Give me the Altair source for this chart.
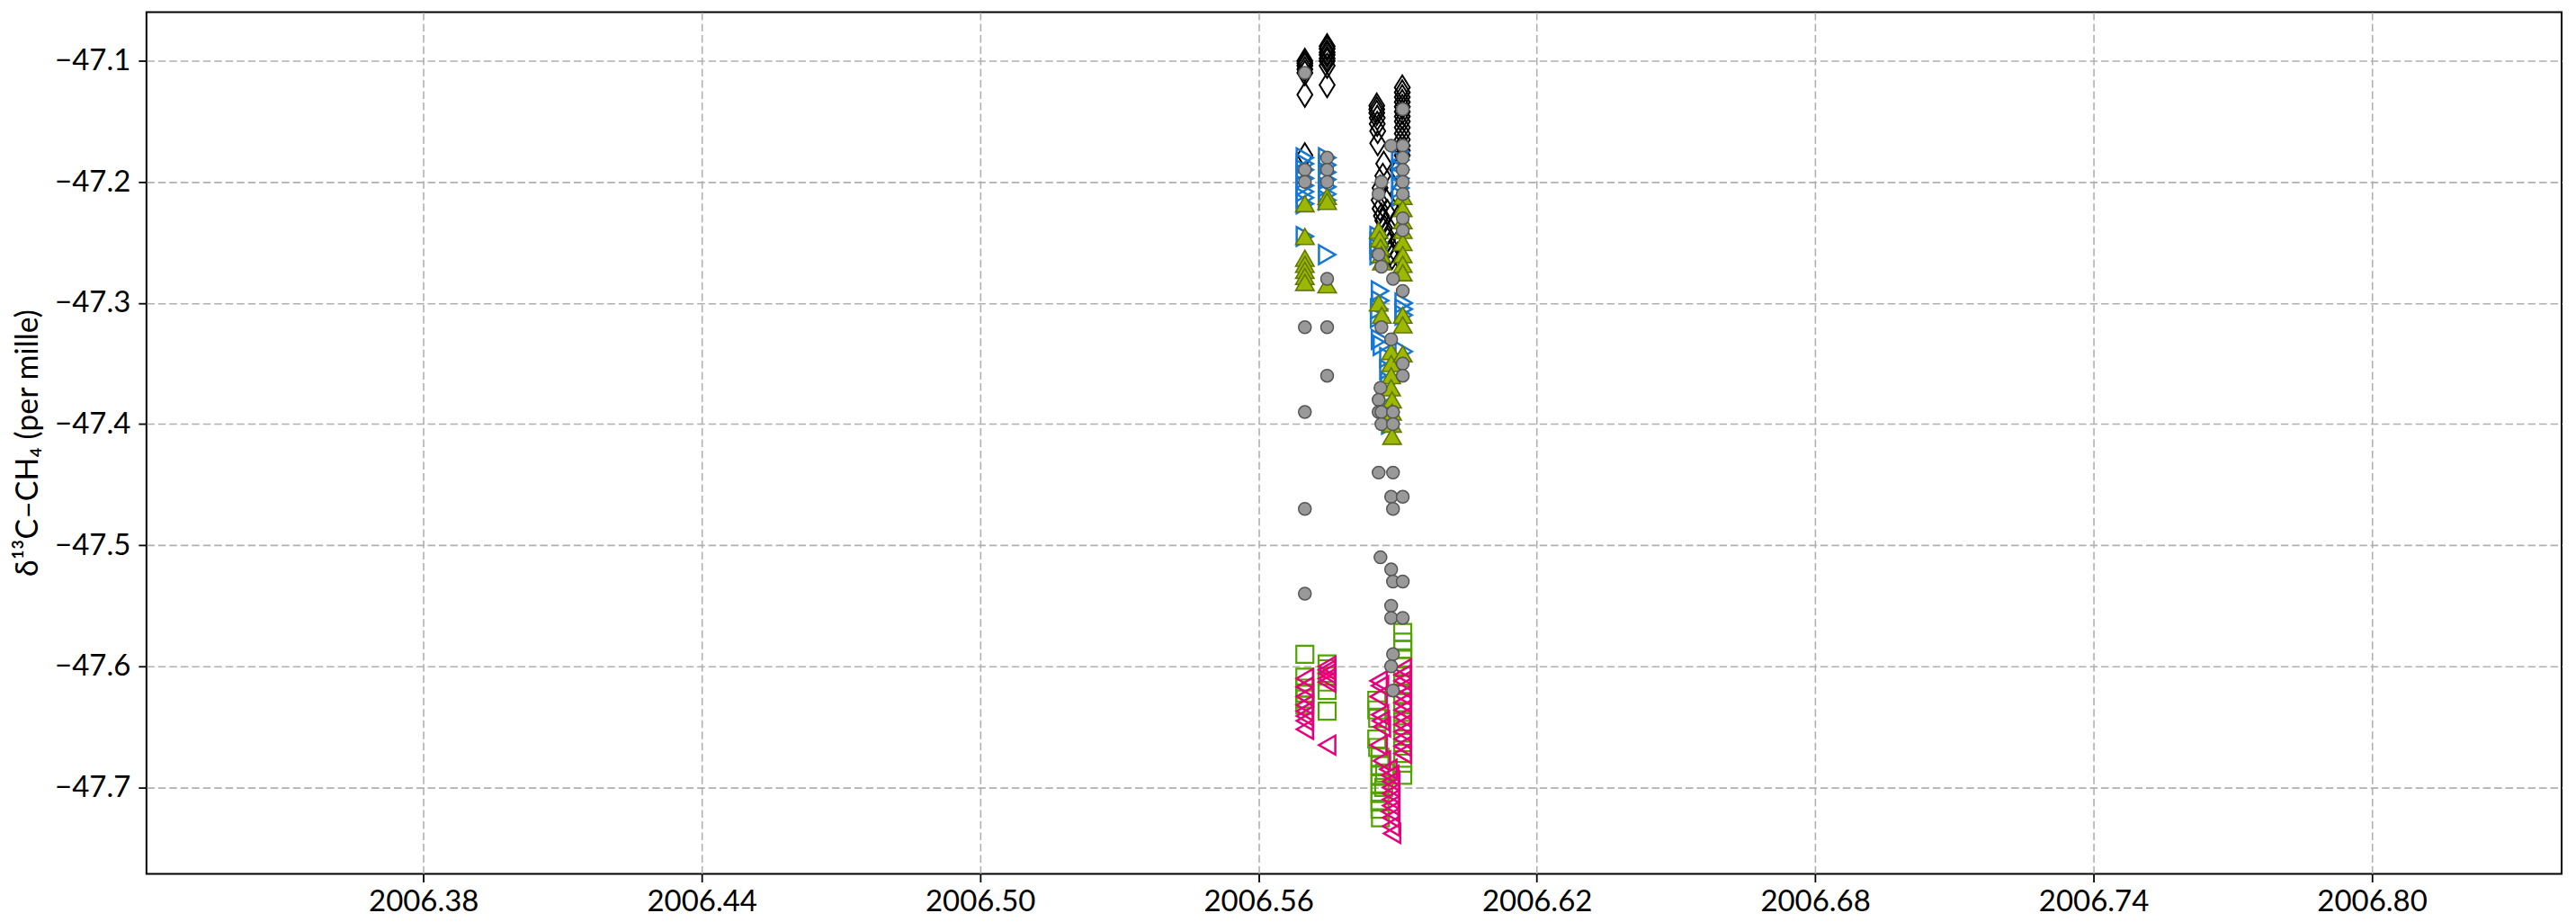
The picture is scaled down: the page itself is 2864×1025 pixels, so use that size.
import altair as alt
import pandas as pd

# ---- data (decimal year, delta13C-CH4 per mille) ----
# black open thin diamonds
dia_x = [2006.5700]*7 + [2006.5748]*8 + [2006.5855, 2006.5855, 2006.5855, 2006.5856, 2006.5856, 2006.5857, 2006.5857,
          2006.5870, 2006.5868, 2006.5862, 2006.5860, 2006.5862, 2006.5865, 2006.5868, 2006.5872, 2006.5875,
          2006.5878, 2006.5882, 2006.5885, 2006.5888, 2006.5878, 2006.5874] + [2006.5910]*14 + [2006.5900]*5
dia_y = [-47.100, -47.102, -47.104, -47.107, -47.110, -47.128, -47.178,
         -47.088, -47.090, -47.093, -47.095, -47.098, -47.100, -47.104, -47.120,
         -47.137, -47.140, -47.143, -47.147, -47.152, -47.158, -47.168,
         -47.185, -47.195, -47.205, -47.215, -47.222, -47.228, -47.232, -47.238, -47.243,
         -47.248, -47.252, -47.258, -47.262, -47.225, -47.215,
         -47.122, -47.126, -47.130, -47.134, -47.138, -47.142, -47.146, -47.150, -47.155, -47.160,
         -47.165, -47.170, -47.174, -47.178,
         -47.190, -47.210, -47.230, -47.250, -47.260]

# blue open right-pointing triangles
blu_x = [2006.5700]*9 + [2006.5748]*8 + [2006.5859, 2006.5859, 2006.5859, 2006.5859, 2006.5862, 2006.5862, 2006.5860,
          2006.5860, 2006.5862, 2006.5866, 2006.5880, 2006.5880, 2006.5882, 2006.5882, 2006.5884, 2006.5884] + \
        [2006.5906]*6 + [2006.5913]*4
blu_y = [-47.180, -47.185, -47.190, -47.197, -47.203, -47.208, -47.213, -47.218, -47.245,
         -47.180, -47.186, -47.192, -47.198, -47.204, -47.210, -47.215, -47.260,
         -47.245, -47.250, -47.255, -47.260, -47.290, -47.298, -47.305, -47.312, -47.330, -47.335,
         -47.345, -47.355, -47.365, -47.375, -47.390, -47.400,
         -47.175, -47.182, -47.190, -47.197, -47.205, -47.212,
         -47.300, -47.305, -47.310, -47.340]

# olive filled up triangles
oli_x = [2006.5700]*7 + [2006.5748]*3 + [2006.5859, 2006.5861, 2006.5863, 2006.5865, 2006.5866, 2006.5859, 2006.5866,
          2006.5886, 2006.5886, 2006.5886, 2006.5886, 2006.5888, 2006.5888, 2006.5888, 2006.5888] + [2006.5911]*11
oli_y = [-47.218, -47.245, -47.263, -47.268, -47.273, -47.278, -47.283,
         -47.212, -47.216, -47.285,
         -47.240, -47.247, -47.254, -47.260, -47.266, -47.300, -47.310,
         -47.340, -47.350, -47.360, -47.370, -47.380, -47.390, -47.400, -47.410,
         -47.212, -47.222, -47.232, -47.240, -47.250, -47.260, -47.268, -47.275, -47.310, -47.318, -47.342]

# green open squares
grn_x = [2006.5700]*6 + [2006.5748]*6 + [2006.5855, 2006.5855, 2006.5857, 2006.5855, 2006.5857, 2006.5862, 2006.5862,
          2006.5862, 2006.5862, 2006.5862, 2006.5862, 2006.5862, 2006.5863, 2006.5870, 2006.5872] + [2006.5911]*16
grn_y = [-47.590, -47.609, -47.618, -47.622, -47.627, -47.632,
         -47.598, -47.602, -47.608, -47.613, -47.620, -47.637,
         -47.628, -47.636, -47.643, -47.660, -47.667, -47.675, -47.682, -47.690, -47.697, -47.705,
         -47.712, -47.718, -47.725, -47.700, -47.688,
         -47.572, -47.580, -47.586, -47.593, -47.600, -47.608, -47.615, -47.623, -47.630, -47.638,
         -47.646, -47.655, -47.663, -47.672, -47.680, -47.690]

# magenta open left-pointing triangles
mag_x = [2006.5700]*8 + [2006.5748]*6 + [2006.5859, 2006.5862, 2006.5859, 2006.5862, 2006.5864, 2006.5866, 2006.5859,
          2006.5866, 2006.5880, 2006.5884, 2006.5886, 2006.5886, 2006.5886, 2006.5886, 2006.5886, 2006.5884,
          2006.5886, 2006.5886, 2006.5888] + [2006.5911]*13
mag_y = [-47.610, -47.617, -47.625, -47.632, -47.637, -47.641, -47.645, -47.652,
         -47.600, -47.603, -47.606, -47.610, -47.613, -47.665,
         -47.612, -47.616, -47.625, -47.640, -47.645, -47.650, -47.665, -47.678, -47.685, -47.690,
         -47.695, -47.700, -47.705, -47.710, -47.715, -47.720, -47.725, -47.732, -47.738,
         -47.602, -47.607, -47.612, -47.618, -47.624, -47.630, -47.636, -47.642, -47.648, -47.654,
         -47.660, -47.666, -47.672]

# grey filled circles
gry_x = [2006.5700]*7 + [2006.5748]*6 + [2006.5886, 2006.5865, 2006.5859, 2006.5859, 2006.5865, 2006.5890, 2006.5865,
          2006.5886, 2006.5863, 2006.5859, 2006.5859, 2006.5865, 2006.5890, 2006.5865, 2006.5890, 2006.5859,
          2006.5890, 2006.5886, 2006.5890, 2006.5863, 2006.5886, 2006.5890, 2006.5886, 2006.5886, 2006.5890,
          2006.5886, 2006.5890] + [2006.5911]*14
gry_y = [-47.110, -47.190, -47.200, -47.320, -47.390, -47.470, -47.540,
         -47.180, -47.190, -47.200, -47.280, -47.320, -47.360,
         -47.170, -47.200, -47.210, -47.260, -47.270, -47.280, -47.320, -47.330, -47.370, -47.380,
         -47.390, -47.390, -47.390, -47.400, -47.400, -47.440, -47.440, -47.460, -47.470, -47.510,
         -47.520, -47.530, -47.550, -47.560, -47.590, -47.600, -47.620,
         -47.140, -47.170, -47.180, -47.190, -47.200, -47.210, -47.230, -47.240, -47.290, -47.350,
         -47.360, -47.460, -47.530, -47.560]

x_ticks = [2006.38, 2006.44, 2006.50, 2006.56, 2006.62, 2006.68, 2006.74, 2006.80]
y_ticks = [-47.1, -47.2, -47.3, -47.4, -47.5, -47.6, -47.7]

FONT = "Lato"
xscale = alt.Scale(domain=[2006.3203, 2006.8409], nice=False, zero=False)
yscale = alt.Scale(domain=[-47.7714, -47.0598], nice=False, zero=False)

grid = dict(grid=True, gridColor="#b0b0b0", gridDash=[8.5, 4], gridWidth=1.6,
            domain=False, ticks=True, tickColor="black", tickWidth=1.8, tickSize=9,
            labelFont=FONT, labelFontSize=33, labelColor="black")

xaxis = alt.Axis(values=x_ticks, format=".2f", title=None, labelPadding=6, **grid)
yaxis = alt.Axis(values=y_ticks, format=".1f", title="δ¹³C–CH₄ (per mille)",
                 titleFont=FONT, titleFontSize=34, titleFontWeight="normal", titleColor="black",
                 titleX=-131, titleY=479, titleAngle=270, titleAlign="center", titleBaseline="middle",
                 labelPadding=9, **grid)


def layer(xs, ys, **mk):
    df = pd.DataFrame({"x": xs, "y": ys})
    return alt.Chart(df).mark_point(opacity=1, **mk).encode(
        x=alt.X("x:Q", scale=xscale, axis=xaxis),
        y=alt.Y("y:Q", scale=yscale, axis=yaxis),
    )


diamond = "M0,-1L0.62,0L0,1L-0.62,0Z"
chart = alt.layer(
    layer(dia_x, dia_y, shape=diamond, size=729, filled=False, stroke="black", strokeWidth=2),
    layer(blu_x, blu_y, shape="triangle-right", size=441, filled=False, stroke="#1478d4", strokeWidth=2.5),
    layer(oli_x, oli_y, shape="triangle-up", size=420, filled=True, fill="#9cb800", stroke="#607800", strokeWidth=1.6),
    layer(grn_x, grn_y, shape="square", size=361, filled=False, stroke="#52a300", strokeWidth=2.2),
    layer(mag_x, mag_y, shape="triangle-left", size=441, filled=False, stroke="#e6007e", strokeWidth=2.5),
    layer(gry_x, gry_y, shape="circle", size=196, filled=True, fill="#999999", stroke="#555555", strokeWidth=1.5),
).properties(
    width=2688, height=959,
    autosize=alt.AutoSizeParams(type="none"),
    padding={"left": 155, "top": 5, "right": 8, "bottom": 52},
    background="white",
).configure_view(stroke="black", strokeWidth=2)

chart.save("out.html", embed_options={"renderer": "svg", "actions": False})
